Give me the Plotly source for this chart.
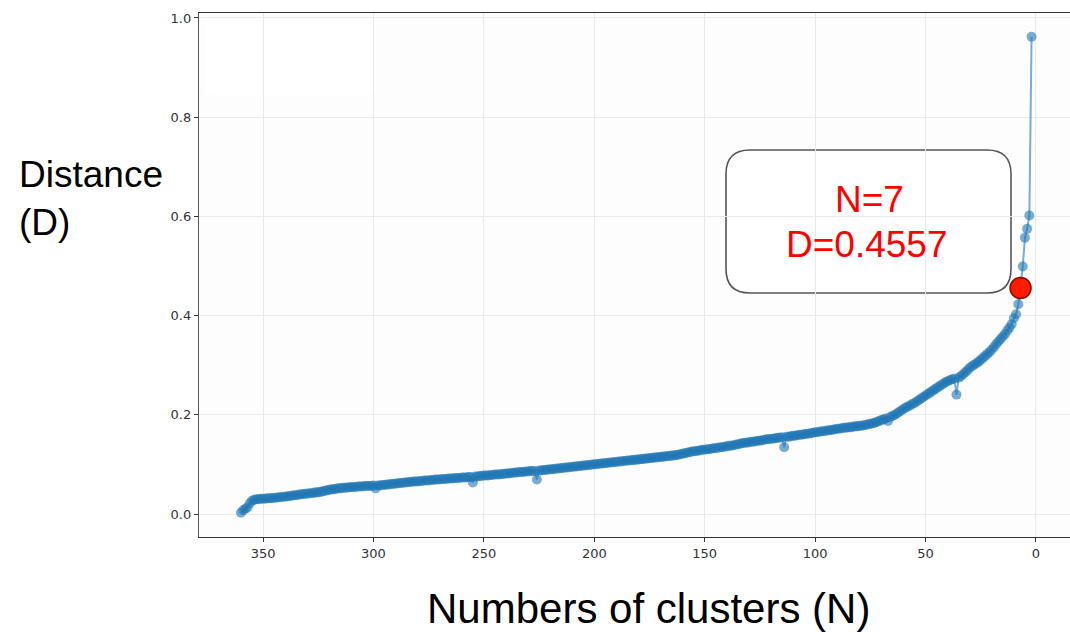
import plotly.graph_objects as go

# ---------------- data ----------------
N = list(range(360, 1, -1))  # numbers of clusters, 360 ... 2
D = [
    0.003, 0.008, 0.011, 0.014, 0.022, 0.027, 0.029, 0.030, 0.030, 0.031,  # 360-351
    0.031, 0.031, 0.032, 0.032, 0.032, 0.033, 0.033, 0.034, 0.034, 0.035,  # 350-341
    0.035, 0.036, 0.036, 0.037, 0.038, 0.038, 0.039, 0.040, 0.040, 0.041,  # 340-331
    0.041, 0.042, 0.042, 0.043, 0.044, 0.044, 0.045, 0.046, 0.047, 0.048,  # 330-321
    0.049, 0.050, 0.050, 0.051, 0.052, 0.052, 0.053, 0.053, 0.054, 0.054,  # 320-311
    0.055, 0.055, 0.055, 0.056, 0.056, 0.056, 0.057, 0.057, 0.057, 0.057,  # 310-301
    0.058, 0.052, 0.058, 0.058, 0.059, 0.059, 0.060, 0.060, 0.061, 0.061,  # 300-291
    0.062, 0.062, 0.063, 0.063, 0.064, 0.064, 0.065, 0.065, 0.066, 0.066,  # 290-281
    0.066, 0.067, 0.067, 0.068, 0.068, 0.068, 0.069, 0.069, 0.070, 0.070,  # 280-271
    0.070, 0.071, 0.071, 0.071, 0.072, 0.072, 0.072, 0.073, 0.073, 0.073,  # 270-261
    0.074, 0.074, 0.074, 0.075, 0.075, 0.064, 0.076, 0.076, 0.077, 0.077,  # 260-251
    0.078, 0.078, 0.078, 0.079, 0.079, 0.080, 0.080, 0.080, 0.081, 0.081,  # 250-241
    0.082, 0.082, 0.083, 0.083, 0.084, 0.084, 0.085, 0.085, 0.085, 0.086,  # 240-231
    0.086, 0.087, 0.087, 0.087, 0.070, 0.088, 0.088, 0.089, 0.089, 0.090,  # 230-221
    0.090, 0.091, 0.091, 0.092, 0.092, 0.093, 0.093, 0.094, 0.094, 0.095,  # 220-211
    0.095, 0.096, 0.096, 0.097, 0.097, 0.098, 0.098, 0.099, 0.099, 0.100,  # 210-201
    0.100, 0.101, 0.101, 0.102, 0.102, 0.103, 0.103, 0.104, 0.104, 0.105,  # 200-191
    0.105, 0.106, 0.106, 0.107, 0.107, 0.108, 0.108, 0.109, 0.109, 0.110,  # 190-181
    0.110, 0.111, 0.111, 0.112, 0.112, 0.113, 0.113, 0.114, 0.114, 0.115,  # 180-171
    0.115, 0.116, 0.116, 0.117, 0.117, 0.118, 0.118, 0.119, 0.120, 0.121,  # 170-161
    0.122, 0.123, 0.124, 0.125, 0.126, 0.127, 0.127, 0.128, 0.129, 0.130,  # 160-151
    0.130, 0.131, 0.131, 0.132, 0.133, 0.133, 0.134, 0.135, 0.135, 0.136,  # 150-141
    0.137, 0.138, 0.138, 0.139, 0.140, 0.141, 0.142, 0.143, 0.144, 0.144,  # 140-131
    0.145, 0.146, 0.146, 0.147, 0.148, 0.148, 0.149, 0.150, 0.151, 0.151,  # 130-121
    0.152, 0.152, 0.153, 0.154, 0.154, 0.155, 0.135, 0.156, 0.156, 0.157,  # 120-111
    0.158, 0.158, 0.159, 0.160, 0.160, 0.161, 0.162, 0.162, 0.163, 0.164,  # 110-101
    0.165, 0.165, 0.166, 0.167, 0.167, 0.168, 0.169, 0.169, 0.170, 0.171,  # 100-91
    0.172, 0.172, 0.173, 0.174, 0.174, 0.175, 0.175, 0.176, 0.177, 0.177,  # 90-81
    0.178, 0.178, 0.179, 0.180, 0.181, 0.182, 0.183, 0.184, 0.186, 0.188,  # 80-71
    0.190, 0.191, 0.193, 0.188, 0.196, 0.198, 0.200, 0.203, 0.206, 0.209,  # 70-61
    0.212, 0.215, 0.217, 0.219, 0.222, 0.224, 0.227, 0.230, 0.233, 0.236,  # 60-51
    0.239, 0.242, 0.245, 0.248, 0.251, 0.254, 0.257, 0.260, 0.263, 0.266,  # 50-41
    0.268, 0.270, 0.272, 0.273, 0.241, 0.275, 0.278, 0.282, 0.286, 0.290,  # 40-31
    0.295, 0.298, 0.301, 0.304, 0.307, 0.311, 0.315, 0.319, 0.323, 0.327,  # 30-21
    0.332, 0.337, 0.343, 0.348, 0.353, 0.358, 0.363, 0.370, 0.376, 0.383,  # 20-11
    0.395, 0.403, 0.423, 0.4557, 0.499, 0.557, 0.575, 0.602, 0.962,        # 10-2
]
best_n = [7]
best_d = [0.4557]
x_ticks = [350, 300, 250, 200, 150, 100, 50, 0]
y_ticks = [0.0, 0.2, 0.4, 0.6, 0.8, 1.0]
box_lines = ["N=7", "D=0.4557"]
x_title = "Numbers of clusters (N)"
y_title = "Distance<br>(D)"

# ---------------- layout geometry (pixels) ----------------
W_PX, H_PX = 1070, 636
L, R, T, B = 199, 1070, 13, 537
PW, PH = R - L, B - T


def px(x):
    return (x - L) / PW


def py(y):
    return (B - y) / PH


def rounded_rect(x0, y0, x1, y1, r):
    """SVG path in paper coords for a rounded rectangle given page pixels."""
    pts = []
    pts.append(f"M {px(x0 + r)},{py(y0)}")
    pts.append(f"L {px(x1 - r)},{py(y0)}")
    pts.append(f"Q {px(x1)},{py(y0)} {px(x1)},{py(y0 + r)}")
    pts.append(f"L {px(x1)},{py(y1 - r)}")
    pts.append(f"Q {px(x1)},{py(y1)} {px(x1 - r)},{py(y1)}")
    pts.append(f"L {px(x0 + r)},{py(y1)}")
    pts.append(f"Q {px(x0)},{py(y1)} {px(x0)},{py(y1 - r)}")
    pts.append(f"L {px(x0)},{py(y0 + r)}")
    pts.append(f"Q {px(x0)},{py(y0)} {px(x0 + r)},{py(y0)}")
    pts.append("Z")
    return " ".join(pts)


BLUE = "rgba(31,119,180,0.6)"

fig = go.Figure()
fig.add_trace(go.Scatter(
    x=N, y=D, mode="lines+markers",
    line=dict(color=BLUE, width=2),
    marker=dict(color=BLUE, size=10, line=dict(width=0)),
    hoverinfo="skip", showlegend=False,
))
fig.add_trace(go.Scatter(
    x=best_n, y=best_d, mode="markers",
    marker=dict(color="#ff1a00", size=21, line=dict(color="#8a0c00", width=1.5)),
    hoverinfo="skip", showlegend=False,
))

shapes = [
    # erased legend area (white box)
    dict(type="path", xref="paper", yref="paper", layer="between",
         path=rounded_rect(205, 18, 376, 95, 8),
         fillcolor="#ffffff", line=dict(width=0)),
    # callout box
    dict(type="path", xref="paper", yref="paper", layer="between",
         path=rounded_rect(726, 150, 1011, 293, 24),
         fillcolor="#ffffff", line=dict(color="#555555", width=1.6)),
]

annotations = [
    dict(text=box_lines[0], xref="paper", yref="paper", x=px(869), y=py(200),
         xanchor="center", yanchor="middle", showarrow=False, align="center",
         font=dict(family="Liberation Sans, Arial", size=37, color="#ff0000")),
    dict(text=box_lines[1], xref="paper", yref="paper", x=px(867), y=py(244),
         xanchor="center", yanchor="middle", showarrow=False, align="center",
         font=dict(family="Liberation Sans, Arial", size=37, color="#ff0000")),
    dict(text=y_title, xref="paper", yref="paper", x=px(17), y=py(198),
         xanchor="left", yanchor="middle", showarrow=False, align="left",
         font=dict(family="Liberation Sans, Arial", size=37, color="#000000")),
    dict(text=x_title, xref="paper", yref="paper", x=px(648), y=py(608),
         xanchor="center", yanchor="middle", showarrow=False,
         font=dict(family="Liberation Sans, Arial", size=42, color="#000000")),
]

fig.update_layout(
    width=W_PX, height=H_PX,
    margin=dict(l=L, r=W_PX - R, t=T, b=H_PX - B, pad=0),
    paper_bgcolor="#ffffff", plot_bgcolor="#fcfdfc",
    shapes=shapes, annotations=annotations,
    showlegend=False,
)
fig.update_xaxes(
    range=[379.0, -15.4], autorange=False,
    tickmode="array", tickvals=x_ticks, ticktext=[str(v) for v in x_ticks],
    ticks="outside", ticklen=4, tickwidth=1.2, tickcolor="#333333",
    tickfont=dict(family="DejaVu Sans", size=13, color="#333333"),
    showgrid=True, gridcolor="#e8eae8", gridwidth=1,
    showline=True, linecolor="#333333", linewidth=1.4, mirror=True,
    zeroline=False,
)
fig.update_yaxes(
    range=[-0.046, 1.010], autorange=False,
    tickmode="array", tickvals=y_ticks, ticktext=[f"{v:.1f}" for v in y_ticks],
    ticks="outside", ticklen=4, tickwidth=1.2, tickcolor="#333333",
    tickfont=dict(family="DejaVu Sans", size=13, color="#333333"),
    showgrid=True, gridcolor="#e8eae8", gridwidth=1,
    showline=True, linecolor="#555555", linewidth=1.4, mirror=False,
    zeroline=False,
)

fig.write_html("out.html")
